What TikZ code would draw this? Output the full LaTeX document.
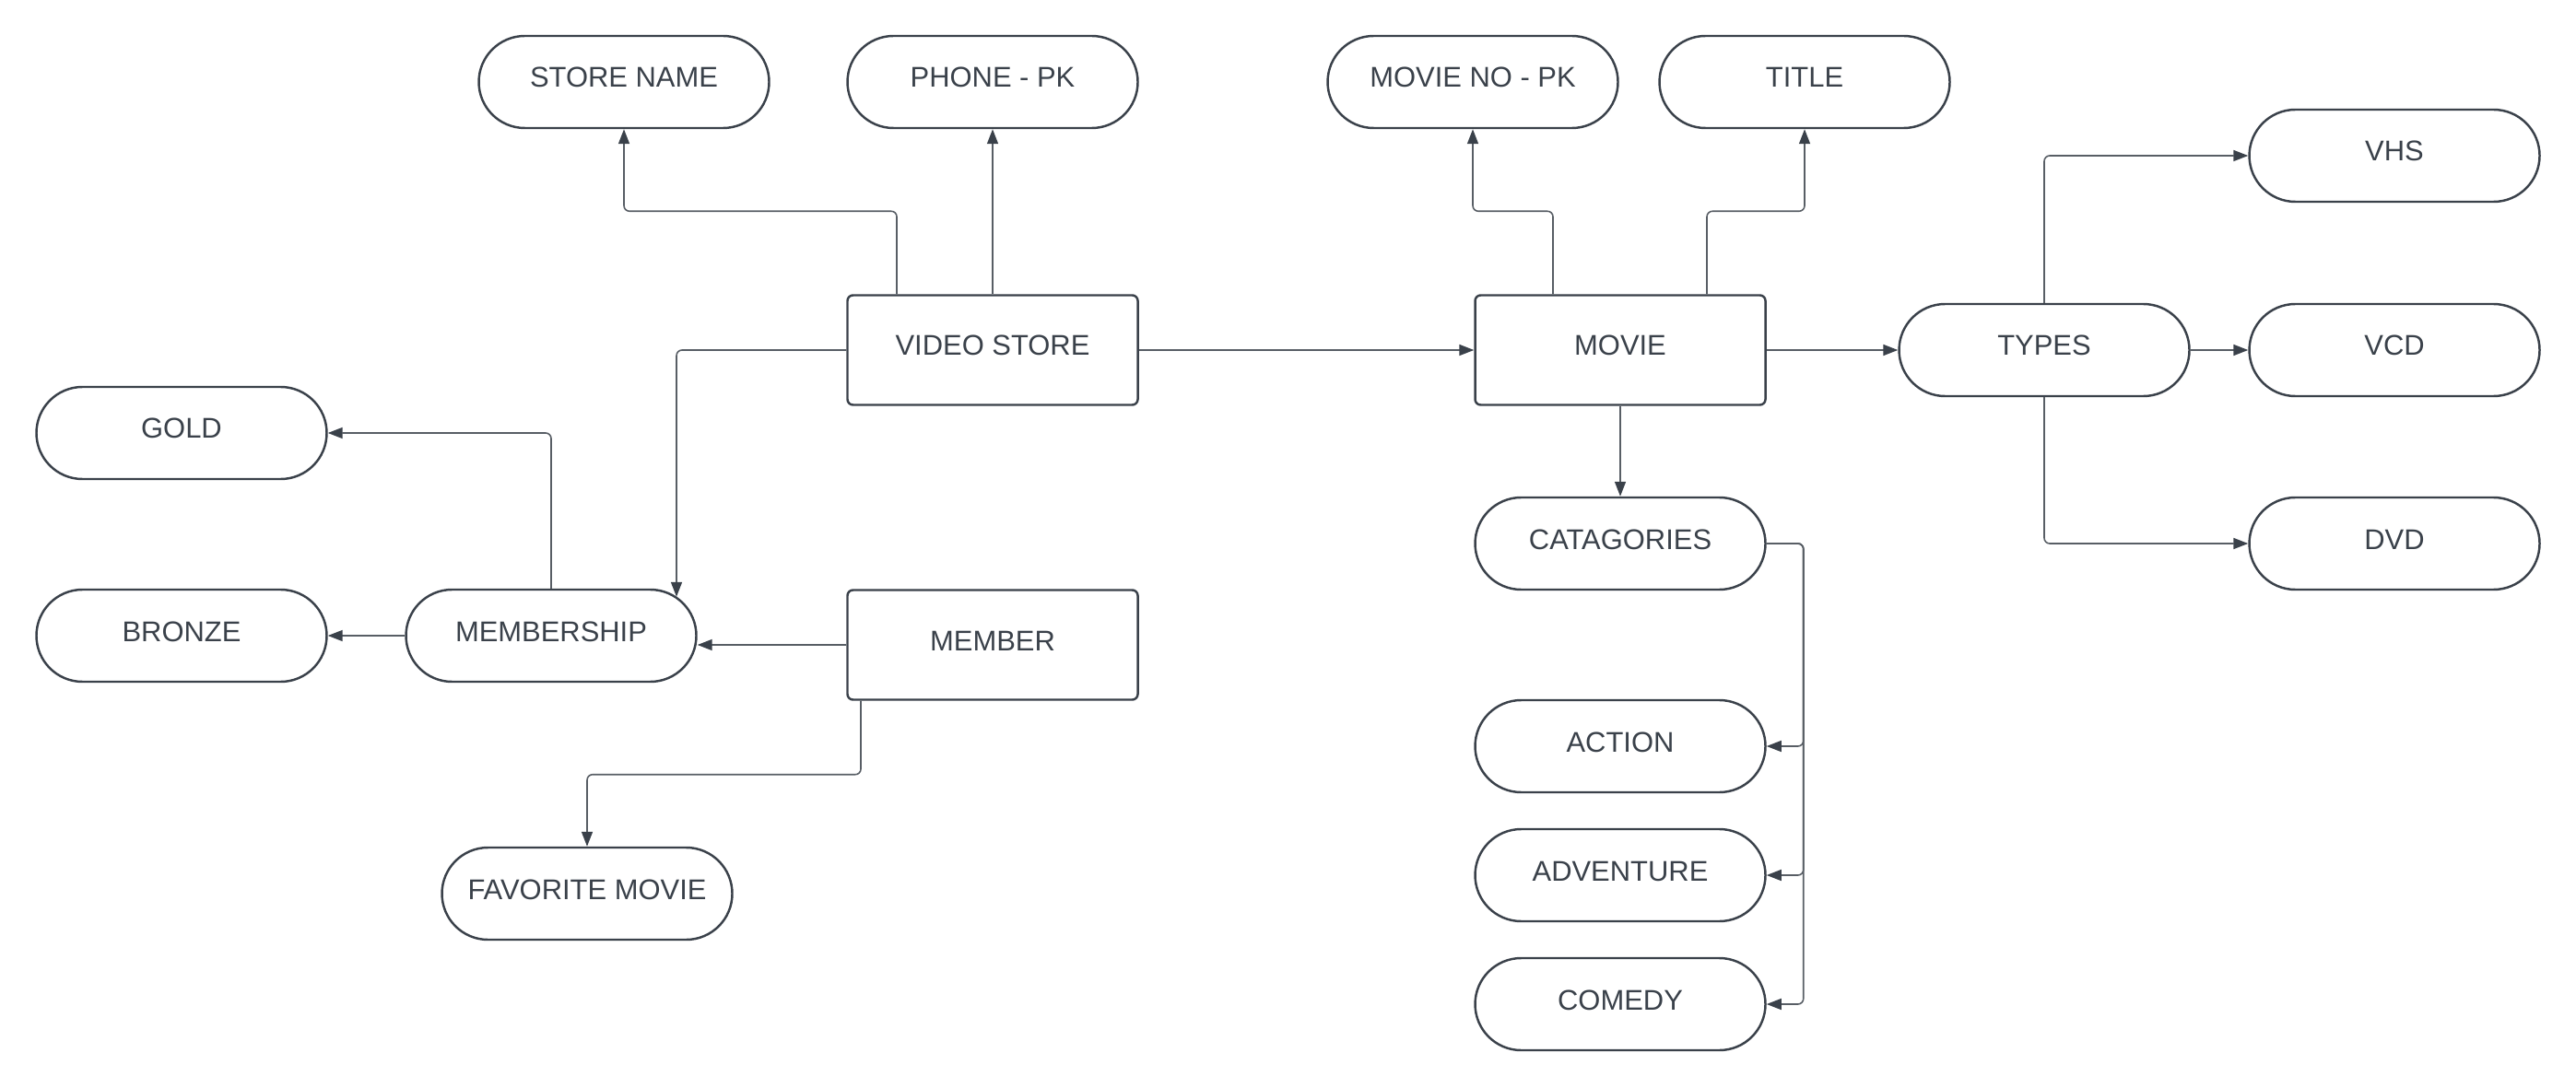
\documentclass[tikz,border=0pt]{standalone}
\usepackage{fontspec}
\setmainfont{Liberation Sans}
\usetikzlibrary{arrows.meta}
\definecolor{ink}{HTML}{3A414A}
\begin{document}
\begin{tikzpicture}[
    font=\fontsize{8.8pt}{10pt}\selectfont,
    every node/.style={text=ink, text height=0.25cm, text depth=0.13cm},
    pill/.style={draw=ink, line width=0.7pt, rounded corners=0.5cm,
        minimum width=3.15cm, minimum height=1cm, inner sep=0pt},
    entity/.style={draw=ink, line width=0.7pt, rounded corners=0.06cm,
        minimum width=3.15cm, minimum height=1.19cm, inner sep=0pt},
    conn/.style={draw=ink!85, line width=0.45pt, rounded corners=0.06cm,
        -{Triangle[length=0.16cm,width=0.12cm,color=ink]}}
]
    \useasboundingbox (0,0) rectangle (27.95,11.8);

    % Entities
    \node[entity] (videostore) at (10.77,8.00) {VIDEO STORE};
    \node[entity] (movie) at (17.58,8.00) {MOVIE};
    \node[entity] (member) at (10.77,4.80) {MEMBER};

    % Attributes
    \node[pill] (storename) at (6.77,10.91) {STORE NAME};
    \node[pill] (phonepk) at (10.77,10.91) {PHONE - PK};
    \node[pill] (movieno) at (15.98,10.91) {MOVIE NO - PK};
    \node[pill] (title) at (19.58,10.91) {TITLE};
    \node[pill] (types) at (22.18,8.00) {TYPES};
    \node[pill] (vhs) at (25.98,10.11) {VHS};
    \node[pill] (vcd) at (25.98,8.00) {VCD};
    \node[pill] (dvd) at (25.98,5.90) {DVD};
    \node[pill] (catagories) at (17.58,5.90) {CATAGORIES};
    \node[pill] (action) at (17.58,3.70) {ACTION};
    \node[pill] (adventure) at (17.58,2.30) {ADVENTURE};
    \node[pill] (comedy) at (17.58,0.90) {COMEDY};
    \node[pill] (gold) at (1.97,7.10) {GOLD};
    \node[pill] (bronze) at (1.97,4.90) {BRONZE};
    \node[pill] (membership) at (5.98,4.90) {MEMBERSHIP};
    \node[pill] (favmovie) at (6.37,2.10) {FAVORITE MOVIE};

    % Arrows
    \draw[conn] ([xshift=-1.04cm]videostore.north) -- ++(0,0.9) -| (storename.south);
    \draw[conn] (videostore.north) -- (phonepk.south);
    \draw[conn] ([xshift=-0.73cm]movie.north) -- ++(0,0.9) -| (movieno.south);
    \draw[conn] ([xshift=0.94cm]movie.north) -- ++(0,0.9) -| (title.south);
    \draw[conn] (videostore.east) -- (movie.west);
    \draw[conn] (videostore.west) -| ([xshift=1.36cm,yshift=-0.09cm]membership.north);
    \draw[conn] (membership.north) |- (gold.east);
    \draw[conn] (membership.west) -- (bronze.east);
    \draw[conn] (member.west) -- (member.west -| membership.east);
    \draw[conn] ([xshift=-1.43cm]member.south) -- ++(0,-0.8) -| (favmovie.north);
    \draw[conn] (movie.south) -- (catagories.north);
    \draw[conn] (movie.east) -- (types.west);
    \draw[conn] (types.north) |- (vhs.west);
    \draw[conn] (types.east) -- (vcd.west);
    \draw[conn] (types.south) |- (dvd.west);
    \draw[conn] (catagories.east) -- ++(0.4,0) |- (action.east);
    \draw[conn] (catagories.east) -- ++(0.4,0) |- (adventure.east);
    \draw[conn] (catagories.east) -- ++(0.4,0) |- (comedy.east);
\end{tikzpicture}
\end{document}
